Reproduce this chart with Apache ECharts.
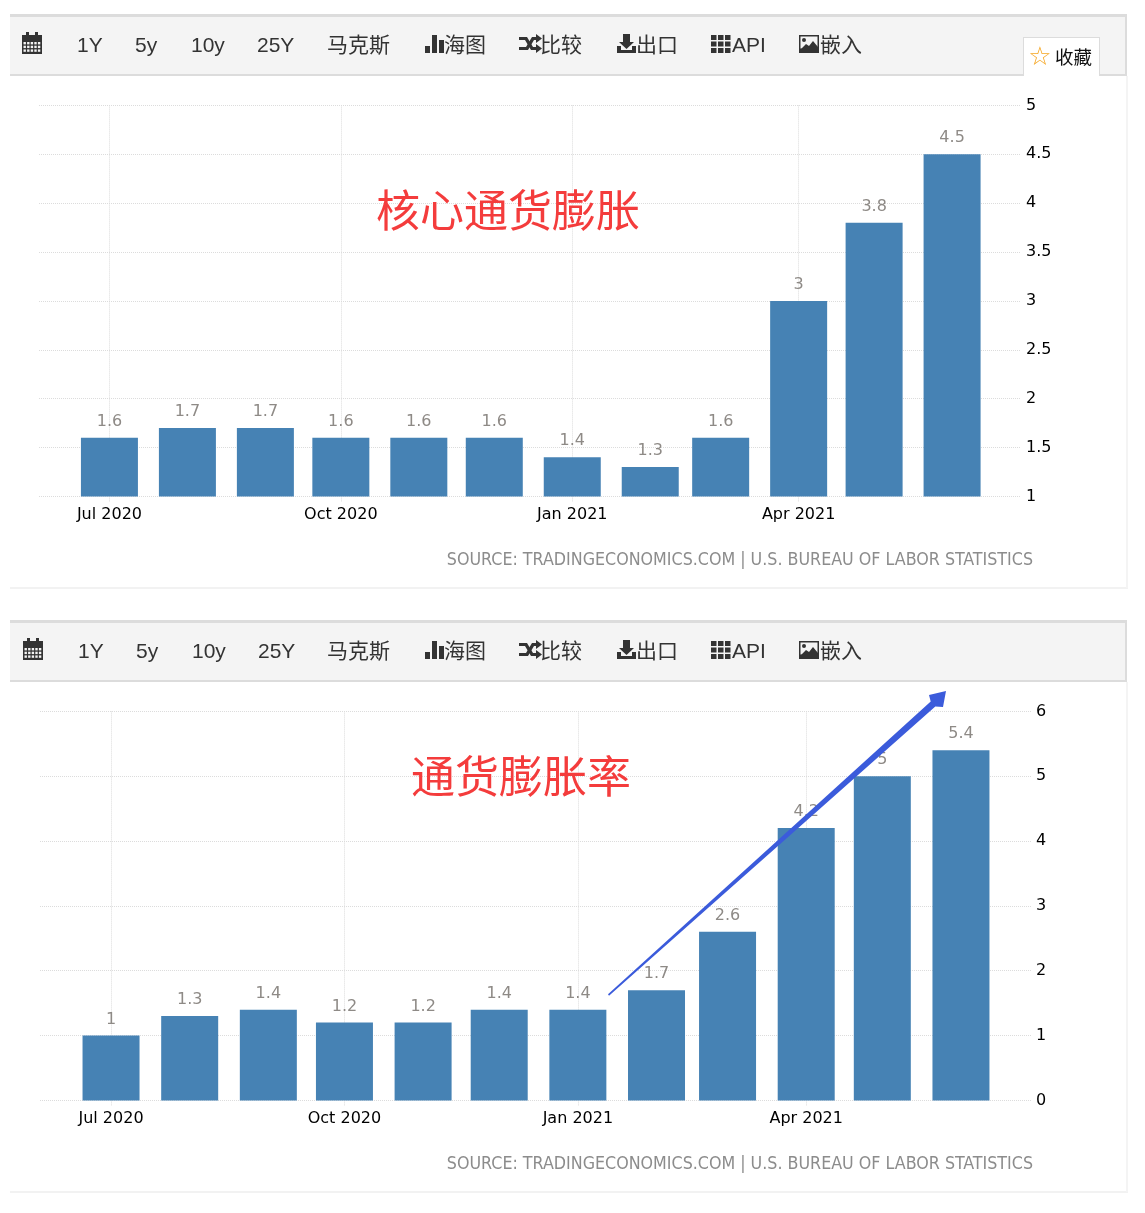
<!DOCTYPE html>
<html><head><meta charset="utf-8">
<style>html,body{margin:0;padding:0;background:#fff}#c{width:1145px;height:1213px}</style>
<script src="https://cdn.jsdelivr.net/npm/echarts@6/dist/echarts.min.js"></script>
</head><body><div id="c"></div>
<script>
const months = ['2020-07-01','2020-08-01','2020-09-01','2020-10-01','2020-11-01','2020-12-01','2021-01-01','2021-02-01','2021-03-01','2021-04-01','2021-05-01','2021-06-01'];
const coreInflation = [1.6,1.7,1.7,1.6,1.6,1.6,1.4,1.3,1.6,3,3.8,4.5];
const inflationRate = [1,1.3,1.4,1.2,1.2,1.4,1.4,1.7,2.6,4.2,5,5.4];
const xTicks = ['2020-07-01','2020-10-01','2021-01-01','2021-04-01'];
const xTickLabels = ['Jul 2020','Oct 2020','Jan 2021','Apr 2021'];
const toolbarItems = ['1Y','5y','10y','25Y','马克斯','海图','比较','出口','API','嵌入'];
const sourceText = 'SOURCE: TRADINGECONOMICS.COM | U.S. BUREAU OF LABOR STATISTICS';
const titles = ['核心通货膨胀','通货膨胀率'];

const t = s => +new Date(s + 'T00:00:00Z');
const tickVals = xTicks.map(t);
const xMin = t('2020-06-03');
const FONT = '"DejaVu Sans"';
const CJK = '"Liberation Sans","Noto Sans CJK SC"';
const GRID = '#dcdcdc', BAR = '#4682b4', DARK = '#333';

function xAxis(i,xMaxStr){return {
  type:'value', gridIndex:i, min:xMin, max:t(xMaxStr), scale:true,
  axisLine:{show:false},
  axisTick:{show:true,length:5,customValues:tickVals,lineStyle:{color:GRID,type:'dotted'}},
  splitLine:{show:true,lineStyle:{color:GRID,type:'dotted',width:1}},
  axisLabel:{customValues:tickVals,margin:10,color:'#000',fontFamily:FONT,fontSize:16,
    hideOverlap:false,
    formatter:v=>xTickLabels[tickVals.indexOf(+v)]||''}
};}
function yAxis(i,min,max,interval,margin){return {
  type:'value', gridIndex:i, position:'right', min, max, interval,
  axisLine:{show:false}, axisTick:{show:false},
  splitLine:{show:true,lineStyle:{color:GRID,type:'dotted',width:1}},
  axisLabel:{margin,color:'#000',fontFamily:FONT,fontSize:16,padding:[6,0,0,0]}
};}
function series(i,vals){return {
  type:'bar', xAxisIndex:i, yAxisIndex:i, barWidth:57,
  data:months.map((m,k)=>[t(m),vals[k]]),
  itemStyle:{color:BAR},
  label:{show:true,position:'top',distance:8,color:'#8e8a86',fontFamily:FONT,fontSize:16,
    formatter:p=>String(p.value[1])}
};}

/* toolbar + annotation drawing */
const R=(x,y,w,h,fill)=>({type:'rect',shape:{x,y,width:w,height:h},style:{fill},silent:true});
const T=(x,y,text,size,fill,font,align)=>({type:'text',x,y,style:{text,fontSize:size,fill,fontFamily:font||CJK,align:align||'left',verticalAlign:'middle'},silent:true});
const P=(points,fill)=>({type:'polygon',shape:{points},style:{fill},silent:true});

function calendar(x,y){const a=[R(x,y+3,20,19,DARK),R(x+4,y,3,4,DARK),R(x+13,y,3,4,DARK)];
  for(let r=0;r<3;r++)for(let c=0;c<5;c++)a.push(R(x+1.5+c*3.6,y+10+r*3.7,2.4,2.4,'#f4f4f4'));return a;}
function barsIcon(x,y){return [R(x,y+11,5,7,DARK),R(x+7,y,5,18,DARK),R(x+14,y+5,5,13,DARK)];}
function shuffle(x,y){return [
  R(x,y+2,5,3,DARK),R(x,y+12,5,3,DARK),
  P([[x+5,y+2],[x+8,y+2],[x+14,y+12],[x+17,y+12],[x+17,y+15],[x+12,y+15],[x+6,y+5],[x+5,y+5]],DARK),
  P([[x+5,y+12],[x+7,y+12],[x+13,y+2],[x+17,y+2],[x+17,y+5],[x+15,y+5],[x+9,y+15],[x+5,y+15]],DARK),
  P([[x+17,y-1],[x+23,y+3.5],[x+17,y+8]],DARK),P([[x+17,y+9],[x+23,y+13.5],[x+17,y+18]],DARK)];}
function download(x,y){return [R(x+6,y,7,8,DARK),P([[x+2,y+8],[x+17,y+8],[x+9.5,y+15]],DARK),
  R(x,y+12,4,7,DARK),R(x+15,y+12,4,7,DARK),R(x,y+16,19,3,DARK)];}
function gridIcon(x,y){const a=[];for(let r=0;r<3;r++)for(let c=0;c<3;c++)a.push(R(x+c*7,y+r*6.5,5.5,5,DARK));return a;}
function imageIcon(x,y){return [R(x,y,20,18,DARK),R(x+1.5,y+1.5,17,12,'#f4f4f4'),
  {type:'circle',shape:{cx:x+5,cy:y+5,r:2},style:{fill:DARK},silent:true},
  P([[x+1,y+15],[x+7,y+9],[x+10,y+11],[x+14,y+6],[x+19,y+12],[x+19,y+17],[x+1,y+17]],DARK)];}

function toolbar(top,dx){
  const m=top+31, c=[];
  c.push(R(10,top,1117,62,'#f4f4f4'),R(10,top,1117,3,'#dcdcdc'),R(10,top+60,1117,2,'#dcdcdc'),R(1125,top,2,62,'#dcdcdc'));
  c.push(...calendar(22+dx,m-13));
  const xs=[77,135,191,257,327,444,540,636,732,820];
  toolbarItems.forEach((s,i)=>{const sh=i<4?dx:0;c.push(T(xs[i]+sh,m+1,s,21,DARK));});
  c.push(...barsIcon(425,m-10),...shuffle(519,m-10),...download(617,m-11),...gridIcon(711,m-10),...imageIcon(799,m-10));
  return c;
}
const arrow=P([[608,994.2],[930.7,701.4],[929,695],[946,691],[943,707],[935.3,706.6],[609,995.8]],'#3b5bdb');

const graphic=[
  ...toolbar(14,0),
  R(1023,37,77,39,'#dcdcdc'),R(1024,38,75,38,'#fff'),
  T(1040,58,'☆',26,'#f5a623',FONT,'center'),T(1055,59,'收藏',18.5,'#111'),
  R(10,587,1118,2,'#f2f2f2'),
  R(1126,76,2,512,'#f4f4f4'),
  T(508,210,titles[0],44,'#f43c3c','"Noto Sans CJK SC"','center'),
  T(1033,560,sourceText,17.7,'#8c8c8c','"DejaVu Sans Condensed","DejaVu Sans"','right'),
  ...toolbar(620,1),
  R(10,1191,1118,2,'#f2f2f2'),
  R(1126,682,2,510,'#f4f4f4'),
  T(521,776,titles[1],44,'#f43c3c','"Noto Sans CJK SC"','center'),
  T(1033,1164,sourceText,17.7,'#8c8c8c','"DejaVu Sans Condensed","DejaVu Sans"','right'),
  arrow
];

const chart=echarts.init(document.getElementById('c'),null,{renderer:'canvas'});
chart.setOption({
  animation:false, backgroundColor:'#fff',
  grid:[
    {left:39,width:981,top:105.4,height:391,containLabel:false},
    {left:40,width:992,top:711.4,height:389,containLabel:false}
  ],
  xAxis:[xAxis(0,'2021-06-28'),xAxis(1,'2021-06-29')],
  yAxis:[yAxis(0,1,5,0.5,6),yAxis(1,0,6,1,4)],
  series:[series(0,coreInflation),series(1,inflationRate)],
  graphic:{elements:graphic.map(e=>Object.assign(e,{z:e===arrow?100:50}))}
});
</script></body></html>
